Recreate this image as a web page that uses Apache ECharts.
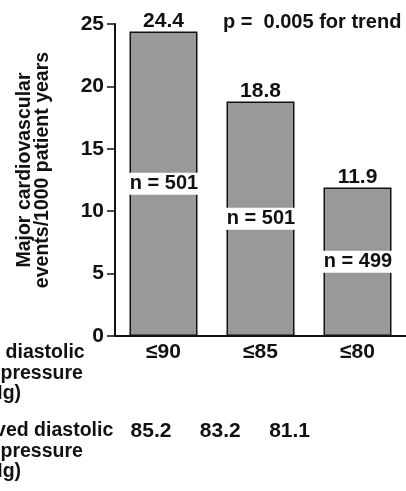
<!DOCTYPE html>
<html>
<head>
<meta charset="utf-8">
<script src="https://cdn.jsdelivr.net/npm/echarts@6/dist/echarts.min.js"></script>
<style>
  html, body { margin: 0; padding: 0; background: #fff; }
  #chart { width: 406px; height: 491px; }
</style>
</head>
<body>
<div id="chart"></div>
<script>
// Target diastolic blood pressure groups
const categories = ['≤90', '≤85', '≤80'];
// Major cardiovascular events per 1000 patient years
const eventRates = [24.4, 18.8, 11.9];
// Patients per group
const groupSizes = [501, 501, 499];
// Achieved diastolic blood pressure per group (mm Hg)
const achievedDbp = [85.2, 83.2, 81.1];
// Y axis scale
const yMin = 0;
const yMax = 25;
const yStep = 5;
// Text blocks
const yTitleLines = ['Major cardiovascular', 'events/1000 patient years'];
const targetRowLines = ['Target diastolic', 'blood pressure', '(mm Hg)'];
const achievedRowLines = ['Achieved diastolic', 'blood pressure', '(mm Hg)'];
const trendNote = 'p =  0.005 for trend';

const FONT = '"Liberation Sans", Arial, Helvetica, sans-serif';
const INK = '#111';

const chart = echarts.init(document.getElementById('chart'), null, { renderer: 'canvas' });

const achievedTexts = achievedDbp.map((v, i) => ({
  type: 'text',
  x: 151 + i * 69.3,
  y: 431,
  silent: true,
  style: {
    text: v.toFixed(1),
    fill: INK,
    font: 'bold 21px ' + FONT,
    align: 'center',
    verticalAlign: 'middle'
  }
}));

chart.setOption({
  animation: false,
  backgroundColor: '#fff',
  grid: { left: 115, top: 24, width: 298, height: 312 },
  xAxis: {
    type: 'category',
    data: categories,
    axisLine: { lineStyle: { color: INK, width: 2 } },
    axisTick: { show: false },
    axisLabel: {
      margin: 6,
      color: INK,
      fontFamily: FONT,
      fontWeight: 'bold',
      fontSize: 21
    }
  },
  yAxis: {
    type: 'value',
    min: yMin,
    max: yMax,
    interval: yStep,
    splitLine: { show: false },
    axisLine: { show: true, lineStyle: { color: INK, width: 2 } },
    axisTick: { show: true, length: 8, lineStyle: { color: INK, width: 1.5 } },
    axisLabel: {
      margin: 11,
      color: INK,
      fontFamily: FONT,
      fontWeight: 'bold',
      fontSize: 21
    }
  },
  series: [
    {
      type: 'bar',
      data: eventRates,
      barWidth: 68,
      itemStyle: { color: '#999999', borderColor: INK, borderWidth: 1.5 },
      label: {
        show: true,
        position: 'top',
        distance: 0,
        color: INK,
        fontFamily: FONT,
        fontWeight: 'bold',
        fontSize: 21,
        formatter: p => p.value.toFixed(1)
      }
    },
    {
      // group sizes, written across the middle of each bar
      type: 'bar',
      data: eventRates,
      barWidth: 68,
      barGap: '-100%',
      silent: true,
      itemStyle: { color: 'rgba(0,0,0,0)', borderWidth: 0 },
      label: {
        show: true,
        position: 'inside',
        color: INK,
        fontFamily: FONT,
        fontWeight: 'bold',
        fontSize: 20,
        backgroundColor: '#fff',
        padding: [1, 1, 1, 2],
        formatter: p => 'n = ' + groupSizes[p.dataIndex]
      }
    }
  ],
  graphic: [
    {
      type: 'text',
      x: 34,
      y: 170,
      rotation: Math.PI / 2,
      silent: true,
      style: {
        text: yTitleLines.join('\n'),
        fill: INK,
        font: 'bold 19.5px ' + FONT,
        lineHeight: 18,
        align: 'center',
        verticalAlign: 'middle'
      }
    },
    {
      type: 'text',
      x: 223,
      y: 22,
      silent: true,
      style: {
        text: trendNote,
        fill: INK,
        font: 'bold 20px ' + FONT,
        align: 'left',
        verticalAlign: 'middle'
      }
    },
    {
      type: 'text',
      x: -58,
      y: 342.5,
      silent: true,
      style: {
        text: targetRowLines.join('\n'),
        fill: INK,
        font: 'bold 19.5px ' + FONT,
        lineHeight: 20.5,
        align: 'left',
        verticalAlign: 'top'
      }
    },
    {
      type: 'text',
      x: -58,
      y: 420.5,
      silent: true,
      style: {
        text: achievedRowLines.join('\n'),
        fill: INK,
        font: 'bold 19.5px ' + FONT,
        lineHeight: 20.5,
        align: 'left',
        verticalAlign: 'top'
      }
    }
  ].concat(achievedTexts)
});
</script>
</body>
</html>
